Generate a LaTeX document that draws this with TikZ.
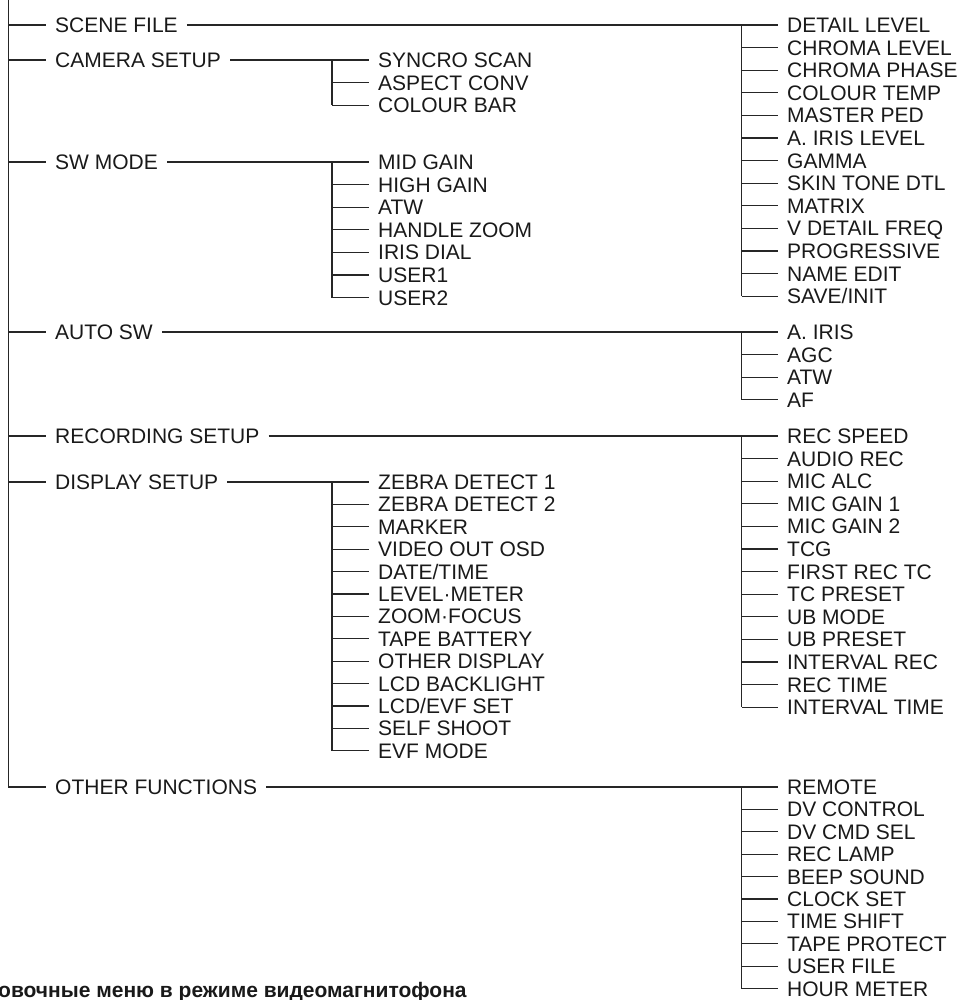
\documentclass[tikz,border=0pt]{standalone}
\usepackage{fontspec}
\setmainfont{Liberation Sans}
\begin{document}
\begin{tikzpicture}[x=1pt,y=-1pt,
  item/.style={anchor=west,inner xsep=9pt,inner ysep=0pt,text height=15pt,text depth=0pt,
    font=\fontsize{21}{21}\selectfont,text=black!90},
  link/.style={line width=1.2pt,black!85}]
  \useasboundingbox (0,0) rectangle (960,1000);
  % Geometry
  \def\xA{46}   % main menu text
  \def\xB{369}  % sub menu, middle column
  \def\xC{778}  % sub menu, right column
  \def\dy{22.6} % row pitch
  \coordinate (root) at (8.3,0);
  \coordinate (barM) at (332,0);
  \coordinate (barR) at (741.7,0);
  % Main menu
  \node[item] (sf) at (\xA,25) {SCENE FILE};
  \node[item] (cs) at (\xA,60) {CAMERA SETUP};
  \node[item] (sw) at (\xA,162) {SW MODE};
  \node[item] (as) at (\xA,332) {AUTO SW};
  \node[item] (rs) at (\xA,436) {RECORDING SETUP};
  \node[item] (ds) at (\xA,482) {DISPLAY SETUP};
  \node[item] (of) at (\xA,787) {OTHER FUNCTIONS};
  \draw[link] (root) |- (of.west);
  \foreach \n in {sf,cs,sw,as,rs,ds}
    \draw[link] (root |- \n.west) -- (\n.west);
  % Scene file
  \foreach \t [count=\i] in {DETAIL LEVEL,CHROMA LEVEL,CHROMA PHASE,COLOUR TEMP,MASTER PED,
      A. IRIS LEVEL,GAMMA,SKIN TONE DTL,MATRIX,V DETAIL FREQ,PROGRESSIVE,NAME EDIT,SAVE/INIT} {
    \node[item] (sf\i) at (\xC,{25+(\i-1)*\dy}) {\t};
    \draw[link] (barR |- sf\i.west) -- (sf\i.west);
  }
  \draw[link] (sf.east) -- (sf1.west);
  \draw[link] (barR |- sf1.west) -- (barR |- sf13.west);
  % Camera setup
  \foreach \t [count=\i] in {SYNCRO SCAN,ASPECT CONV,COLOUR BAR} {
    \node[item] (cs\i) at (\xB,{60+(\i-1)*\dy}) {\t};
    \draw[link] (barM |- cs\i.west) -- (cs\i.west);
  }
  \draw[link] (cs.east) -- (cs1.west);
  \draw[link] (barM |- cs1.west) -- (barM |- cs3.west);
  % SW mode
  \foreach \t [count=\i] in {MID GAIN,HIGH GAIN,ATW,HANDLE ZOOM,IRIS DIAL,USER1,USER2} {
    \node[item] (sw\i) at (\xB,{162+(\i-1)*\dy}) {\t};
    \draw[link] (barM |- sw\i.west) -- (sw\i.west);
  }
  \draw[link] (sw.east) -- (sw1.west);
  \draw[link] (barM |- sw1.west) -- (barM |- sw7.west);
  % Auto sw
  \foreach \t [count=\i] in {A. IRIS,AGC,ATW,AF} {
    \node[item] (as\i) at (\xC,{332+(\i-1)*\dy}) {\t};
    \draw[link] (barR |- as\i.west) -- (as\i.west);
  }
  \draw[link] (as.east) -- (as1.west);
  \draw[link] (barR |- as1.west) -- (barR |- as4.west);
  % Recording setup
  \foreach \t [count=\i] in {REC SPEED,AUDIO REC,MIC ALC,MIC GAIN 1,MIC GAIN 2,TCG,FIRST REC TC,
      TC PRESET,UB MODE,UB PRESET,INTERVAL REC,REC TIME,INTERVAL TIME} {
    \node[item] (rs\i) at (\xC,{436+(\i-1)*\dy}) {\t};
    \draw[link] (barR |- rs\i.west) -- (rs\i.west);
  }
  \draw[link] (rs.east) -- (rs1.west);
  \draw[link] (barR |- rs1.west) -- (barR |- rs13.west);
  % Display setup
  \foreach \t [count=\i] in {ZEBRA DETECT 1,ZEBRA DETECT 2,MARKER,VIDEO OUT OSD,DATE/TIME,
      LEVEL·METER,ZOOM·FOCUS,TAPE BATTERY,OTHER DISPLAY,LCD BACKLIGHT,LCD/EVF SET,SELF SHOOT,EVF MODE} {
    \node[item] (ds\i) at (\xB,{482+(\i-1)*22.4}) {\t};
    \draw[link] (barM |- ds\i.west) -- (ds\i.west);
  }
  \draw[link] (ds.east) -- (ds1.west);
  \draw[link] (barM |- ds1.west) -- (barM |- ds13.west);
  % Other functions
  \foreach \t [count=\i] in {REMOTE,DV CONTROL,DV CMD SEL,REC LAMP,BEEP SOUND,CLOCK SET,
      TIME SHIFT,TAPE PROTECT,USER FILE,HOUR METER} {
    \node[item] (of\i) at (\xC,{787+(\i-1)*22.4}) {\t};
    \draw[link] (barR |- of\i.west) -- (of\i.west);
  }
  \draw[link] (of.east) -- (of1.west);
  \draw[link] (barR |- of1.west) -- (barR |- of10.west);
  % Caption, cut by the page edge
  \node[anchor=base west,inner sep=0pt,font=\bfseries\fontsize{21}{21}\selectfont,text=black!90]
    (cap) at (-2,997) {овочные меню в режиме видеомагнитофона};
\end{tikzpicture}
\end{document}
